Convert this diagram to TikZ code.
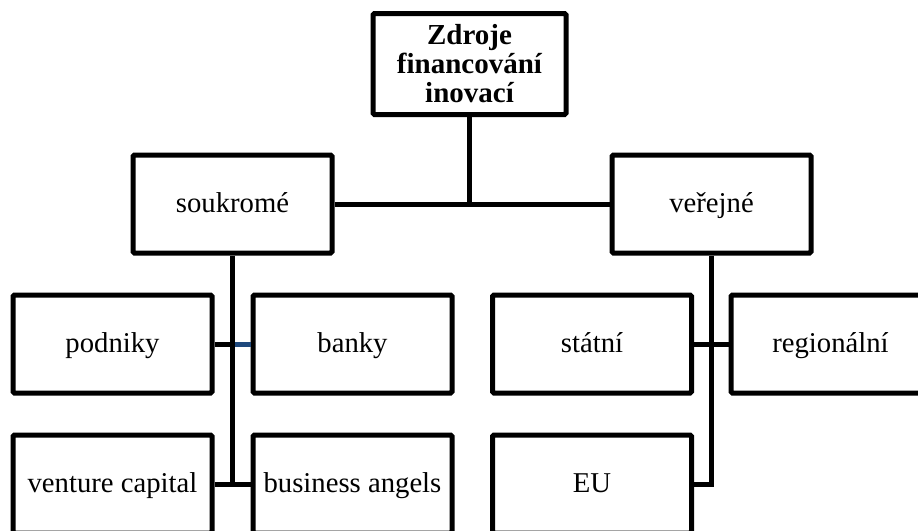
\documentclass[tikz,border=0pt]{standalone}
\usepackage{fontspec}
\setmainfont{Liberation Serif}
\definecolor{connblue}{RGB}{31,73,125}
\begin{document}
\begin{tikzpicture}[x=1pt,y=-1pt,
  frame/.style={draw=black, line width=5pt, rounded corners=1.5pt, fill=white,
    inner sep=0pt, align=center},
  box/.style={frame, minimum width=199pt, minimum height=98pt,
    text height=22pt, text depth=5pt,
    font=\fontsize{28.7}{30}\selectfont},
  conn/.style={line width=5pt, draw=black}]
\useasboundingbox (0,0) rectangle (918,530);
\clip (0,0) rectangle (918,530);
\node[frame, minimum width=193pt, minimum height=101pt,
  font=\fontsize{29}{29}\selectfont\bfseries] (top) at (469.5,64) {Zdroje\\financování\\inovací};
\node[box] (sou) at (232.5,204) {soukromé};
\node[box] (ver) at (711.5,204) {veřejné};
\node[box] (pod) at (112.5,344) {podniky};
\node[box] (ban) at (352.5,344) {banky};
\node[box] (sta) at (592,344) {státní};
\node[box] (reg) at (830.5,344) {regionální};
\node[box] (ven) at (112.5,484) {venture capital};
\node[box] (bus) at (352.5,484) {business angels};
\node[box] (eu) at (592,484) {EU};
% top connectors
\draw[conn] (sou.east) -- (ver.west);
\draw[conn] (top.south) -- (top.south |- sou.east);
% left branch
\draw[conn, draw=connblue] (pod.east -| sou.south) -- (ban.west);
\draw[conn] (pod.east) -- (pod.east -| sou.south);
\draw[conn] (ven.east) -- (bus.west);
\draw[conn] (sou.south) -- (sou.south |- ven.east);
% right branch
\draw[conn] (sta.east) -- (reg.west);
\draw[conn] (ver.south) -- (ver.south |- eu.east) -- (eu.east);
\end{tikzpicture}
\end{document}
